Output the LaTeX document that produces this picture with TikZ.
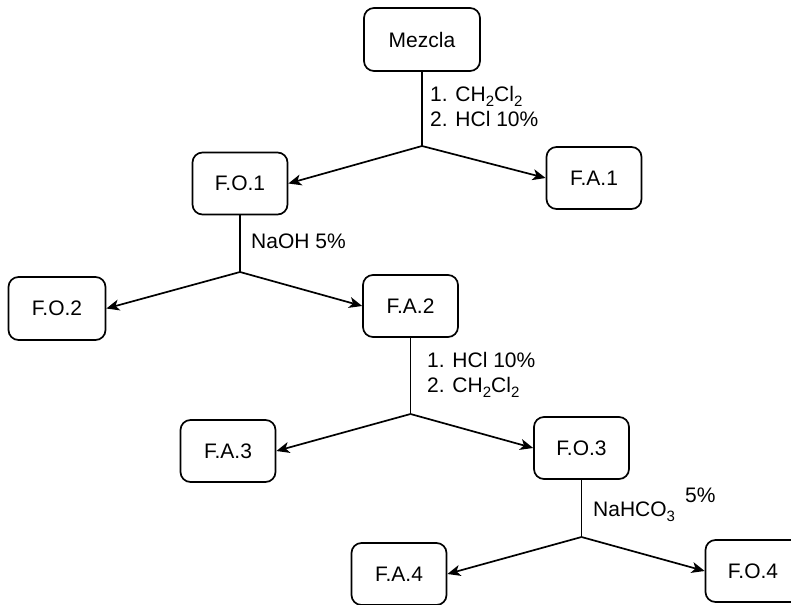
\documentclass[tikz,border=0pt]{standalone}
\usepackage{fontspec}
\setmainfont{Liberation Sans}
\usetikzlibrary{arrows.meta}
\newcommand\subsc[1]{\raisebox{-5pt}{\fontsize{15}{15}\selectfont #1}}
\begin{document}
\begin{tikzpicture}[x=1pt,y=-1pt,
  box/.style={draw, line width=1.7pt, rounded corners=10pt, minimum width=95pt, minimum height=62pt, font=\fontsize{21}{25}\selectfont, inner sep=0pt},
  lbl/.style={anchor=west, align=left, font=\fontsize{21}{25}\selectfont, inner sep=0pt},
  conn/.style={line width=1.7pt},
  arr/.style={conn, -{Stealth[length=13pt, width=11pt, inset=3.5pt]}}]
\useasboundingbox (0,0) rectangle (791,604);
\node[box, minimum width=116pt, minimum height=63pt] (mez) at (422,39.5) {Mezcla};
\coordinate (j1) at (422,146);
\node[box] (fo1) at (240,183.5) {F.O.1};
\node[box] (fa1) at (594,178) {F.A.1};
\coordinate (j2) at (240,272);
\node[box, minimum width=97pt, minimum height=63pt] (fo2) at (57,308.5) {F.O.2};
\node[box] (fa2) at (410.5,306) {F.A.2};
\coordinate (j3) at (410.5,414);
\node[box] (fa3) at (228,451) {F.A.3};
\node[box] (fo3) at (581.5,448) {F.O.3};
\coordinate (j4) at (581.5,537);
\node[box] (fa4) at (399,574) {F.A.4};
\node[box] (fo4) at (753,571) {F.O.4};
\node[lbl] (l1) at (430,106) {1. CH\subsc{2}Cl\subsc{2}\\2. HCl 10\%};
\node[lbl] (l2) at (251,241.7) {NaOH 5\%};
\node[lbl] (l3) at (427,375) {1. HCl 10\%\\2. CH\subsc{2}Cl\subsc{2}};
\node[lbl] (l4) at (593,512) {NaHCO\subsc{3}};
\node[lbl] (l5) at (685,495) {5\%};
\draw[conn] (mez.south) -- (j1);
\draw[arr] (j1) -- (fo1.east);
\draw[arr] (j1) -- (fa1.west);
\draw[conn] (fo1.south) -- (j2);
\draw[arr] (j2) -- (fo2.east);
\draw[arr] (j2) -- (fa2.west);
\draw[conn] (fa2.south) -- (j3);
\draw[arr] (j3) -- (fa3.east);
\draw[arr] (j3) -- (fo3.west);
\draw[conn] (fo3.south) -- (j4);
\draw[arr] (j4) -- (fa4.east);
\draw[arr] (j4) -- (fo4.west);
\end{tikzpicture}
\end{document}
